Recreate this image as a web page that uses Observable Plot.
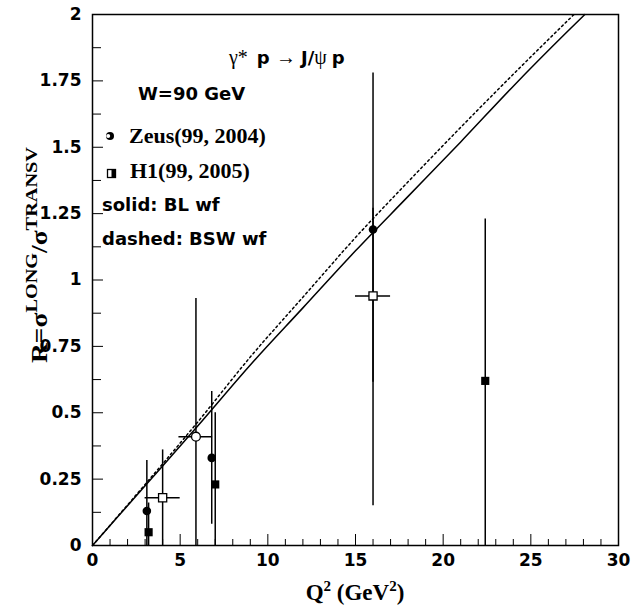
<!DOCTYPE html>
<html>
<head>
<meta charset="utf-8">
<script src="https://cdn.jsdelivr.net/npm/d3@7"></script>
<script src="https://cdn.jsdelivr.net/npm/@observablehq/plot@0.6"></script>
<style>
  body { margin: 0; background: #fff; }
  svg { display: block; }
</style>
</head>
<body>
<div id="chart"></div>
<script>
// R = sigma_L / sigma_T for gamma* p -> J/psi p at W = 90 GeV

// ZEUS, filled circles
const zeusFilledQ2 = [3.1, 6.8, 16.0];
const zeusFilledR  = [0.13, 0.33, 1.19];
const zeusFilledLo = [0.0, 0.08, 0.15];
const zeusFilledHi = [0.32, 0.58, 1.78];

// ZEUS, open circle (with Q2 bin width)
const zeusOpenQ2   = [5.9];
const zeusOpenR    = [0.41];
const zeusOpenLo   = [0.0];
const zeusOpenHi   = [0.93];
const zeusOpenQ2Lo = [4.93];
const zeusOpenQ2Hi = [6.85];

// H1, open squares (with Q2 bin width)
const h1OpenQ2   = [4.0, 16.0];
const h1OpenR    = [0.18, 0.94];
const h1OpenLo   = [0.0, 0.615];
const h1OpenHi   = [0.36, 1.27];
const h1OpenQ2Lo = [3.0, 15.0];
const h1OpenQ2Hi = [5.0, 17.0];

// H1, filled squares
const h1FilledQ2 = [3.2, 7.0, 22.4];
const h1FilledR  = [0.05, 0.23, 0.62];
const h1FilledLo = [0.0, 0.0, 0.0];
const h1FilledHi = [0.16, 0.50, 1.23];

// model curves: BL wave function (solid) and BSW wave function (dashed)
const blQ2  = [0, 3, 6, 9, 12, 15, 18, 21, 24, 27, 28.08];
const blR   = [0, 0.225, 0.45, 0.68, 0.895, 1.11, 1.315, 1.52, 1.73, 1.93, 2.0];
const bswQ2 = [0, 3, 6, 9, 12, 15, 18, 21, 24, 27.46];
const bswR  = [0, 0.23, 0.465, 0.71, 0.935, 1.16, 1.37, 1.575, 1.775, 2.0];

// axis ticks and labels
const xMajor = [0, 5, 10, 15, 20, 25, 30];
const xMajorLabels = ["0", "5", "10", "15", "20", "25", "30"];
const xMinor = d3.range(0, 31).filter(v => v % 5 !== 0);
const yMajor = [0, 0.25, 0.5, 0.75, 1, 1.25, 1.5, 1.75, 2];
const yMajorLabels = ["0", "0.25", "0.5", "0.75", "1", "1.25", "1.5", "1.75", "2"];
const yMinor = d3.range(0.125, 2, 0.25);

const rows = (q, r, lo, hi, qlo, qhi) =>
  q.map((v, i) => ({q: v, r: r[i], lo: lo[i], hi: hi[i], qlo: qlo ? qlo[i] : v, qhi: qhi ? qhi[i] : v}));

const zeusFilled = rows(zeusFilledQ2, zeusFilledR, zeusFilledLo, zeusFilledHi);
const zeusOpen   = rows(zeusOpenQ2, zeusOpenR, zeusOpenLo, zeusOpenHi, zeusOpenQ2Lo, zeusOpenQ2Hi);
const h1Open     = rows(h1OpenQ2, h1OpenR, h1OpenLo, h1OpenHi, h1OpenQ2Lo, h1OpenQ2Hi);
const h1Filled   = rows(h1FilledQ2, h1FilledR, h1FilledLo, h1FilledHi);
const allPoints  = [...zeusFilled, ...zeusOpen, ...h1Open, ...h1Filled];
const binned     = [...zeusOpen, ...h1Open];

const bl  = blQ2.map((q, i) => ({q, r: blR[i]}));
const bsw = bswQ2.map((q, i) => ({q, r: bswR[i]}));

const W = 643, H = 607;
const mt = 14, mr = 25, mb = 62, ml = 92;
const plotW = W - ml - mr, plotH = H - mt - mb;

const SANS = "DejaVu Sans";
const SERIF = "Liberation Serif";

const svg = Plot.plot({
  width: W,
  height: H,
  marginTop: mt,
  marginRight: mr,
  marginBottom: mb,
  marginLeft: ml,
  x: {domain: [0, 30], axis: null},
  y: {domain: [0, 2], axis: null},
  style: {background: "#fff", overflow: "visible"},
  marks: [
    // inward ticks on the bottom and left edges
    Plot.tickX(xMinor, {x: d => d, insetTop: plotH - 6, stroke: "#000", strokeWidth: 1}),
    Plot.tickX(xMajor, {x: d => d, insetTop: plotH - 11, stroke: "#000", strokeWidth: 1}),
    Plot.tickY(yMinor, {y: d => d, insetRight: plotW - 9, stroke: "#000", strokeWidth: 1}),
    Plot.tickY(yMajor, {y: d => d, insetRight: plotW - 11, stroke: "#000", strokeWidth: 1}),
    Plot.text(xMajor, {x: d => d, frameAnchor: "bottom", dy: 20, text: (d, i) => xMajorLabels[i],
      fontFamily: SANS, fontWeight: "bold", fontSize: 17, fill: "#000"}),
    Plot.text(yMajor, {y: d => d, frameAnchor: "left", dx: -11, textAnchor: "end", text: (d, i) => yMajorLabels[i],
      fontFamily: SANS, fontWeight: "bold", fontSize: 17, fill: "#000"}),

    // model curves
    Plot.line(bsw, {x: "q", y: "r", stroke: "#000", strokeWidth: 1.5, strokeDasharray: "2,3", curve: "monotone-x"}),
    Plot.line(bl, {x: "q", y: "r", stroke: "#000", strokeWidth: 1.5, curve: "monotone-x"}),

    // error bars
    Plot.ruleX(allPoints, {x: "q", y1: "lo", y2: "hi", stroke: "#000", strokeWidth: 1.5}),
    Plot.ruleY(binned, {y: "r", x1: "qlo", x2: "qhi", stroke: "#000", strokeWidth: 1.5}),

    // markers
    Plot.dot(zeusFilled, {x: "q", y: "r", r: 4.3, symbol: "circle", fill: "#000", stroke: "none"}),
    Plot.dot(zeusOpen, {x: "q", y: "r", r: 4.4, symbol: "circle", fill: "#fff", stroke: "#000", strokeWidth: 1.3}),
    Plot.dot(h1Open, {x: "q", y: "r", r: 4.6, symbol: "square", fill: "#fff", stroke: "#000", strokeWidth: 1.3}),
    Plot.dot(h1Filled, {x: "q", y: "r", r: 4.6, symbol: "square", fill: "#000", stroke: "none"}),

    Plot.frame({stroke: "#000", strokeWidth: 1.5})
  ]
});

const root = d3.select(svg);

// legend markers
const legend = root.append("g");
legend.append("circle").attr("cx", 110).attr("cy", 136).attr("r", 4).attr("fill", "#000");
legend.append("circle").attr("cx", 108.2).attr("cy", 136).attr("r", 2).attr("fill", "#fff");
legend.append("rect").attr("x", 107.5).attr("y", 169.5).attr("width", 8).attr("height", 8)
  .attr("fill", "#fff").attr("stroke", "#000").attr("stroke-width", 1.3);
legend.append("rect").attr("x", 111.5).attr("y", 169.5).attr("width", 4).attr("height", 8).attr("fill", "#000");

const addText = (x, y, str, family, size, weight = "bold", anchor = "start") =>
  root.append("text").attr("x", x).attr("y", y).attr("font-family", family)
    .attr("font-size", size).attr("font-weight", weight).attr("text-anchor", anchor)
    .attr("fill", "#000").text(str);

addText(138, 100, "W=90 GeV", SANS, 18);
addText(129, 143, "Zeus(99, 2004)", SERIF, 22);
addText(130, 178, "H1(99, 2005)", SERIF, 22);
addText(102, 211, "solid: BL wf", SANS, 18);
addText(102, 245, "dashed: BSW wf", SANS, 18);

// reaction label
const title = root.append("text").attr("x", 229).attr("y", 64).attr("text-anchor", "start").attr("fill", "#000");
title.append("tspan").attr("font-family", SERIF).attr("font-size", 20).text("γ*");
title.append("tspan").attr("font-family", SANS).attr("font-weight", "bold").attr("font-size", 18).text("\u2002p ");
title.append("tspan").attr("font-family", SERIF).attr("font-size", 20).text("→ ");
title.append("tspan").attr("font-family", SANS).attr("font-weight", "bold").attr("font-size", 18).text("J/");
title.append("tspan").attr("font-family", SERIF).attr("font-size", 20).text("ψ ");
title.append("tspan").attr("font-family", SANS).attr("font-weight", "bold").attr("font-size", 18).text("p");

// x axis title
const xt = root.append("text").attr("x", ml + plotW / 2).attr("y", 600).attr("text-anchor", "middle")
  .attr("font-family", SERIF).attr("font-weight", "bold").attr("font-size", 23).attr("fill", "#000");
xt.append("tspan").text("Q");
xt.append("tspan").attr("font-size", 15).attr("dy", -9).text("2");
xt.append("tspan").attr("dy", 9).text(" (GeV");
xt.append("tspan").attr("font-size", 15).attr("dy", -9).text("2");
xt.append("tspan").attr("dy", 9).text(")");

// y axis title
const yt = root.append("text").attr("transform", "translate(47,255) rotate(-90)").attr("text-anchor", "middle")
  .attr("font-family", SERIF).attr("font-weight", "bold").attr("font-size", 23).attr("fill", "#000")
  .attr("textLength", 216).attr("lengthAdjust", "spacingAndGlyphs");
yt.append("tspan").text("R=σ");
yt.append("tspan").attr("font-size", 17).attr("dy", -10).text("LONG");
yt.append("tspan").attr("dy", 10).text("/σ");
yt.append("tspan").attr("font-size", 17).attr("dy", -10).text("TRANSV");

document.getElementById("chart").appendChild(svg);
</script>
</body>
</html>
